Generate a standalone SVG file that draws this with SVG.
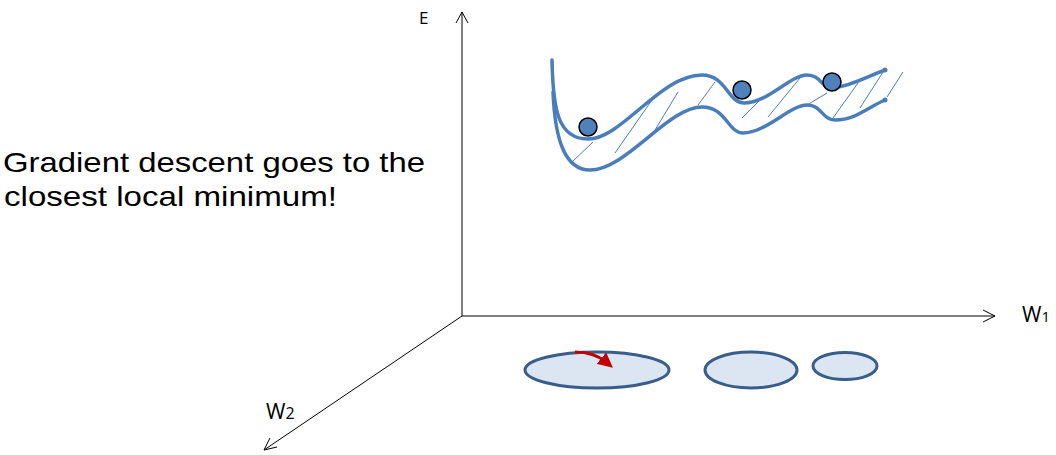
<svg xmlns="http://www.w3.org/2000/svg" width="1056" height="455" viewBox="0 0 1056 455">
<style>
.axis{stroke:#000;stroke-width:1;fill:none}
.head{stroke:#000;stroke-width:1;fill:none}
.curve{stroke:#4a7ebb;stroke-width:3.5;fill:none;stroke-linecap:round}
.hatch{stroke:#4a7ebb;stroke-width:1;fill:none}
.ball{fill:#4f81bd;stroke:#000;stroke-width:1.5}
.basin{fill:#dce6f2;stroke:#385d8a;stroke-width:3}
.lbl{font-family:"Open Sans","Liberation Sans",sans-serif;fill:#000}
.cap{font-family:"Liberation Sans",Arial,sans-serif;fill:#000}
</style>
<defs>
<marker id="red" markerWidth="5" markerHeight="5" refX="2" refY="2.5" orient="auto" markerUnits="strokeWidth" viewBox="0 0 5 5">
<path d="M0,0 L5,2.5 L0,5 Z" fill="#c00000"/>
</marker>
</defs>
<g id="connectors">
<line class="axis" x1="462" y1="316" x2="462" y2="12"/>
<path class="head" d="M456,23 L462,12 L468,23"/>
<line class="axis" x1="462" y1="316" x2="995" y2="316"/>
<path class="head" d="M983,310 L995,316 L983,322"/>
<line class="axis" x1="462" y1="316" x2="264" y2="450"/>
<path class="head" d="M270,438 L264,450 L277,447"/>
</g>
<g id="label-E"><text class="lbl" x="419" y="24" font-size="17">E</text></g>
<g id="label-W1"><text class="lbl" x="1022" y="322" font-size="21">W<tspan font-size="15">1</tspan></text></g>
<g id="label-W2"><text class="lbl" x="266" y="419" font-size="21">W<tspan font-size="16">2</tspan></text></g>
<g id="caption">
<text class="cap" x="3" y="172" font-size="28" textLength="422" lengthAdjust="spacingAndGlyphs">Gradient descent goes to the</text>
<text class="cap" x="4" y="206" font-size="28" textLength="333" lengthAdjust="spacingAndGlyphs">closest local minimum!</text>
</g>
<g id="surface">
<line class="hatch" x1="572" y1="162" x2="593" y2="142"/>
<line class="hatch" x1="615" y1="153" x2="652" y2="100"/>
<line class="hatch" x1="655" y1="130" x2="678" y2="92"/>
<line class="hatch" x1="698" y1="105" x2="715" y2="82"/>
<line class="hatch" x1="742" y1="118" x2="760" y2="100"/>
<line class="hatch" x1="768" y1="117" x2="800" y2="78"/>
<line class="hatch" x1="807" y1="105" x2="827" y2="93"/>
<line class="hatch" x1="833" y1="118" x2="858" y2="83"/>
<line class="hatch" x1="860" y1="108" x2="883" y2="72"/>
<line class="hatch" x1="887" y1="97" x2="903" y2="72"/>
<path class="curve" d="M552,60 C553,110 558,139 588,139 C622,139 660,75 702,75 C726,75 728,103 744,103 C768,103 790,75 807,75 C821,75 822,89 833,88 C852,86 868,76 885,70"/>
<path class="curve" d="M553,92 C555,140 565,170 590,170 C626,170 668,107 702,107 C726,107 728,133 743,133 C766,133 790,105 807,105 C822,105 822,120 835,120 C856,120 870,106 885,100"/>
<circle cx="885" cy="70" r="2.5" fill="#4a7ebb"/>
<circle cx="885" cy="100" r="2.5" fill="#4a7ebb"/>
</g>
<g id="ball-1"><circle class="ball" cx="588" cy="127" r="9"/></g>
<g id="ball-2"><circle class="ball" cx="742" cy="90" r="9"/></g>
<g id="ball-3"><circle class="ball" cx="832" cy="82" r="9"/></g>
<g id="basin-1"><ellipse class="basin" cx="597" cy="370" rx="72" ry="18"/></g>
<g id="basin-2"><ellipse class="basin" cx="751" cy="370" rx="46" ry="18"/></g>
<g id="basin-3"><ellipse class="basin" cx="845" cy="366" rx="32" ry="13.5"/></g>
<g id="step-arrow"><path d="M575,352 C590,352 600,357 606,362" stroke="#c00000" stroke-width="3" fill="none" marker-end="url(#red)"/></g>
</svg>
